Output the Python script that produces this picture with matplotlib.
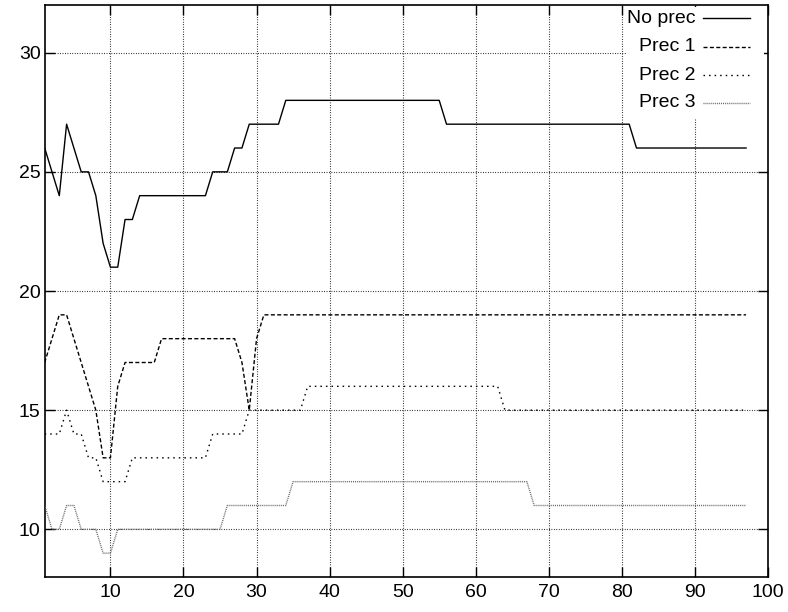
import matplotlib
matplotlib.use("Agg")
import matplotlib.pyplot as plt
from matplotlib.patches import Rectangle

plt.rcParams['font.family'] = ['Liberation Sans', 'DejaVu Sans']

# breakpoints of each series
no_prec_x = [1, 2, 3, 4, 5, 6, 7, 8, 9, 10, 11, 12, 13, 14, 23, 24, 26, 27, 28, 29, 33, 34, 55, 56, 81, 82, 97]
no_prec_y = [26, 25, 24, 27, 26, 25, 25, 24, 22, 21, 21, 23, 23, 24, 24, 25, 25, 26, 26, 27, 27, 28, 28, 27, 27, 26, 26]

prec1_x = [1, 3, 4, 5, 6, 7, 8, 9, 10, 11, 12, 16, 17, 27, 28, 29, 30, 31, 97]
prec1_y = [17, 19, 19, 18, 17, 16, 15, 13, 13, 16, 17, 17, 18, 18, 17, 15, 18, 19, 19]

prec2_x = [1, 3, 4, 5, 6, 7, 8, 9, 12, 13, 23, 24, 28, 29, 36, 37, 63, 64, 97]
prec2_y = [14, 14, 15, 14, 14, 13, 13, 12, 12, 13, 13, 14, 14, 15, 15, 16, 16, 15, 15]

prec3_x = [1, 2, 3, 4, 5, 6, 8, 9, 10, 11, 25, 26, 34, 35, 67, 68, 97]
prec3_y = [11, 10, 10, 11, 11, 10, 10, 9, 9, 10, 10, 11, 11, 12, 12, 11, 11]

labels = ["No prec", "Prec 1", "Prec 2", "Prec 3"]
xticks = [10, 20, 30, 40, 50, 60, 70, 80, 90, 100]
yticks = [10, 15, 20, 25, 30]

styles = [
    dict(color="black", lw=1.0, ls="-"),
    dict(color="black", lw=1.0, ls=(0, (2.9, 1.7))),
    dict(color="black", lw=1.0, ls=(0, (1.1, 2.9))),
    dict(color="0.4", lw=1.0, ls=(0, (0.7, 0.7))),
]

fig = plt.figure(figsize=(7.88, 6.12), dpi=100)
ax = fig.add_axes([0.0567, 0.0572, 0.9179, 0.9346])

series = [(no_prec_x, no_prec_y), (prec1_x, prec1_y), (prec2_x, prec2_y), (prec3_x, prec3_y)]
for (xs, ys), st in zip(series, styles):
    ax.plot(xs, ys, zorder=3, **st)

ax.set_xlim(1, 100)
ax.set_ylim(8, 32)
ax.set_xticks(xticks)
ax.set_yticks(yticks)
ax.grid(True, color="black", lw=0.8, ls=(0, (0.7, 1.5)))
ax.tick_params(direction="in", length=7, width=1, top=True, right=True,
               labelsize=14)
ax.tick_params(axis="y", pad=3)
ax.tick_params(axis="x", pad=5)
for s in ax.spines.values():
    s.set_linewidth(1.2)

# gnuplot-style key in the top right corner
ax.add_patch(Rectangle((0.805, 0.80), 0.19, 0.197, transform=ax.transAxes,
                       facecolor="white", edgecolor="none", zorder=2.5))
rows = [0.977, 0.927, 0.877, 0.829]
for lab, st, yy in zip(labels, styles, rows):
    ax.text(0.900, yy, lab, transform=ax.transAxes, ha="right", va="center",
            fontsize=14, zorder=4)
    ax.plot([0.910, 0.975], [yy, yy], transform=ax.transAxes, zorder=4, **st)

fig.savefig("out.png", dpi=100)
